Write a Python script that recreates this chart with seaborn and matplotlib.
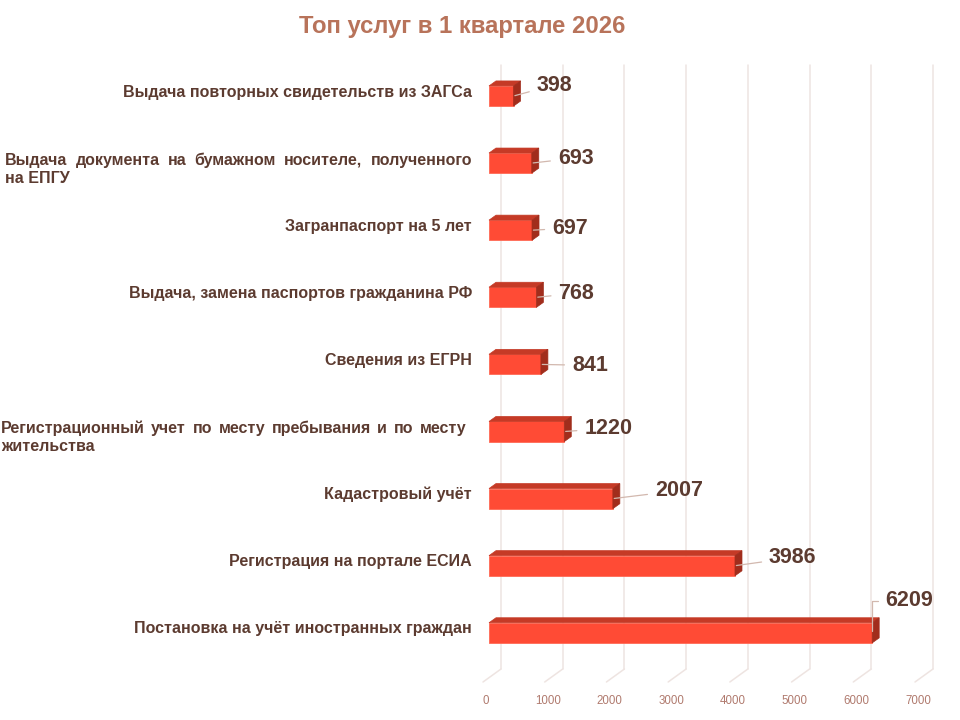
import seaborn as sns
import matplotlib.pyplot as plt
import matplotlib.transforms as mtransforms
from matplotlib.patches import Polygon

services = [
    "Выдача повторных свидетельств из ЗАГСа",
    "Выдача документа на бумажном носителе, полученного на ЕПГУ",
    "Загранпаспорт на 5 лет",
    "Выдача, замена паспортов гражданина РФ",
    "Сведения из ЕГРН",
    "Регистрационный учет по месту пребывания и по месту жительства",
    "Кадастровый учёт",
    "Регистрация на портале ЕСИА",
    "Постановка на учёт иностранных граждан",
]
counts = [398, 693, 697, 768, 841, 1220, 2007, 3986, 6209]
# how the category names wrap (first line is justified)
wrapped = {
    1: ["Выдача документа на бумажном носителе, полученного", "на ЕПГУ"],
    5: ["Регистрационный учет по месту пребывания и по месту", "жительства"],
}
xticks = [0, 1000, 2000, 3000, 4000, 5000, 6000, 7000]
title = "Топ услуг в 1 квартале 2026"

# label offsets in pixels from bar end (Excel labels were moved by hand)
label_offsets = [(23, 11), (26, 5), (20, 2), (22, 4), (31, -1), (20, 3), (42, 8), (34, 8), (13, 32)]

FRONT = "#FF4B35"
TOP = "#C53A26"
SIDE = "#A12D1C"
TXT = "#5C3B30"
GRID = "#EEE4E1"
TICK = "#B07A6E"

sns.set_theme(style="white")
plt.rcParams["font.family"] = ["Liberation Sans", "DejaVu Sans"]

W, H = 960, 720
fig = plt.figure(figsize=(9.6, 7.2), dpi=100)
ax = fig.add_axes([489 / W, 1 - 682 / H, 432 / W, 620 / H])

sns.barplot(x=counts, y=services, orient="h", color=FRONT, saturation=1,
            width=0.3, ax=ax, zorder=3)
ax.set_xlim(0, 7000)
ax.set_ylim(8.733, -0.5067)
for s in ax.spines.values():
    s.set_visible(False)
ax.set_yticks([])
ax.set_xlabel("")
ax.set_ylabel("")

px_x = 7000 / 432.0   # data per pixel, x
px_y = 9.24 / 620.0   # data per pixel, y

# back wall gridlines + floor diagonals
y_bottom = 8.733
for v in xticks:
    bx = v + 12 * px_x
    by = y_bottom - 13 * px_y
    ax.plot([bx, bx], [by, -0.5067 + 3 * px_y], color=GRID, lw=1.1, zorder=1, clip_on=False)
    ax.plot([bx, v - 6 * px_x], [by, y_bottom], color=GRID, lw=1.1, zorder=1, clip_on=False)

# 3D faces of the bars
dx, dy = 7 * px_x, 5 * px_y
for p in ax.patches[:len(counts)]:
    x0, y0, w, h = p.get_x(), p.get_y(), p.get_width(), p.get_height()
    p.set_edgecolor("#FF6A55")
    p.set_linewidth(0.6)
    top = Polygon([(x0, y0), (x0 + w, y0), (x0 + w + dx, y0 - dy), (x0 + dx, y0 - dy)],
                  closed=True, facecolor=TOP, edgecolor=TOP, lw=0.5, zorder=3, clip_on=False)
    side = Polygon([(x0 + w, y0), (x0 + w + dx, y0 - dy), (x0 + w + dx, y0 + h - dy), (x0 + w, y0 + h)],
                   closed=True, facecolor=SIDE, edgecolor=SIDE, lw=0.5, zorder=3, clip_on=False)
    ax.add_patch(top)
    ax.add_patch(side)

# value labels with leader lines
for i, (v, (ox, oy)) in enumerate(zip(counts, label_offsets)):
    cs = "angle,angleA=0,angleB=90,rad=0" if oy > 20 else "arc3"
    ax.annotate(str(v), xy=(v, i), xytext=(ox, oy), textcoords="offset pixels",
                ha="left", va="center", fontsize=15.5, fontweight="bold", color=TXT,
                arrowprops=dict(arrowstyle="-", color="#D2B8AE", lw=0.9,
                                shrinkA=3, shrinkB=1, connectionstyle=cs),
                zorder=5, annotation_clip=False)

# x tick labels on the floor front
ax.set_xticks(xticks)
ax.set_xticklabels([str(t) for t in xticks])
ax.tick_params(axis="x", length=0, pad=9, labelsize=8.3, labelcolor=TICK)
shift = mtransforms.ScaledTranslation(-3 / 100, 0, fig.dpi_scale_trans)
for lbl in ax.get_xticklabels():
    lbl.set_transform(lbl.get_transform() + shift)

# category labels
trans = mtransforms.blended_transform_factory(fig.transFigure, ax.transData)
renderer = fig.canvas.get_renderer()
lab_kw = dict(fontsize=11.5, fontweight="bold", color=TXT, va="center")
for i, name in enumerate(services):
    if i not in wrapped:
        ax.text(472 / W, i - 4 * px_y, name, ha="right", transform=trans, **lab_kw)
        continue
    line1, line2 = wrapped[i]
    left, right = (5, 472) if i == 1 else (1, 466)
    words = line1.split()
    widths = []
    for wd in words:
        t = fig.text(0, 0, wd, **lab_kw)
        widths.append(t.get_window_extent(renderer).width)
        t.remove()
    gap = (right - left - sum(widths)) / (len(words) - 1)
    xpos = left
    for wd, wdt in zip(words, widths):
        ax.text(xpos / W, i - 3 * px_y, wd, ha="left", transform=trans, **lab_kw)
        xpos += wdt + gap
    ax.text(left / W, i + 15 * px_y, line2, ha="left", transform=trans, **lab_kw)

fig.text(462 / W, 1 - 26 / H, title, ha="center", va="center",
         fontsize=17.2, fontweight="bold", color="#B8735A")

fig.savefig("out.png", dpi=100)
